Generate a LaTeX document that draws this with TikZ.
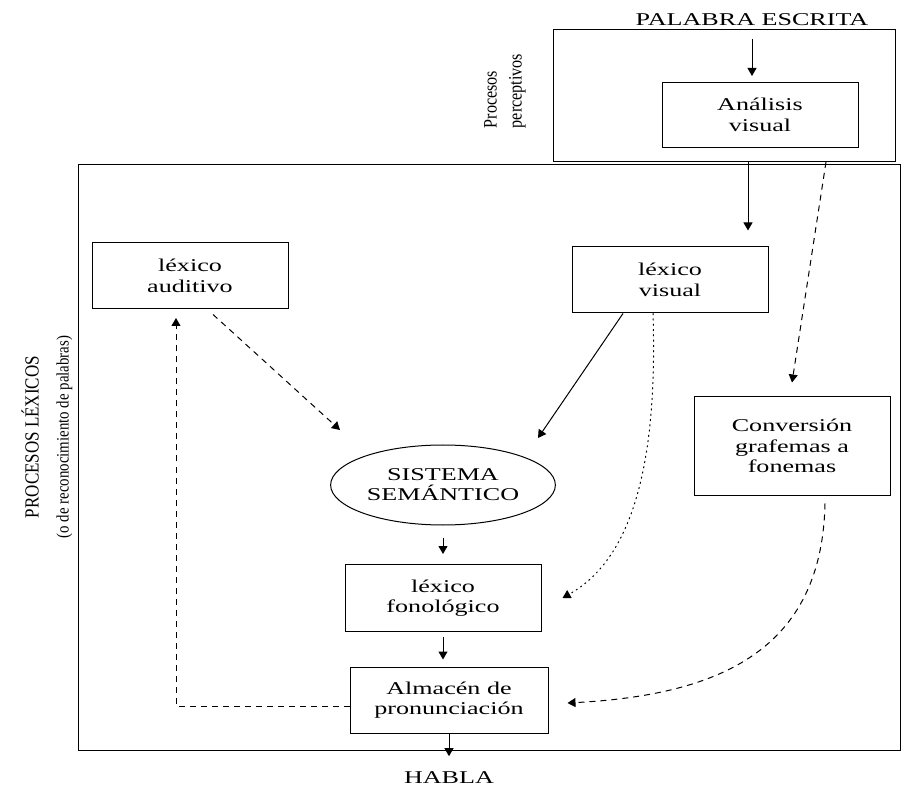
\documentclass[tikz,border=0pt]{standalone}
\usepackage{fontspec}
\setmainfont[FakeStretch=1.45]{Liberation Serif}
\newfontfamily\sidefont[FakeStretch=0.85]{Liberation Serif}
\usetikzlibrary{arrows.meta,shapes.geometric,positioning}

\tikzset{
  box/.style={draw, line width=1pt, minimum width=196pt, minimum height=66pt,
    align=center, font=\fontsize{18}{20.5}\selectfont},
  frame/.style={draw, line width=1pt, inner sep=0pt},
  label text/.style={font=\fontsize{18}{20}\selectfont},
  dashline/.style={dash pattern=on 6pt off 5pt},
  dotline/.style={dash pattern=on 1.3pt off 4pt, line cap=round}
}

\begin{document}
\begin{tikzpicture}[x=1pt, y=-1pt, on grid, line width=1pt, >={Triangle[length=8pt,width=9pt]}]
\useasboundingbox (0,0) rectangle (908,791);
\node [frame, minimum width=342pt, minimum height=132pt] (perc) at (724,96) {};
\node [frame, minimum width=822pt, minimum height=585pt] (lex) at (489,457.5) {};
\node [label text] (palabra) at (752,20) {PALABRA ESCRITA};
\node [box, minimum height=65pt] (ana) at (760,115) {Análisis\\visual};
\node [box] (aud) at (190,276) {léxico\\auditivo};
\node [box] (vis) at (670,280) {léxico\\visual};
\node [box, minimum height=98pt] (conv) at (792,446) {Conversión\\grafemas a\\fonemas};
\node [draw, ellipse, minimum width=210pt, minimum height=80pt, align=center,
  font=\fontsize{18}{20}\selectfont] (sem) at (443,485) {SISTEMA\\SEMÁNTICO};
\node [box, minimum height=67pt] (fon) [below=113pt of sem] {léxico\\fonológico};
\node [box, minimum width=198pt] (alm) [below=102pt of fon, xshift=6pt] {Almacén de\\pronunciación};
\node [label text] (habla) at (449,778) {HABLA};
\node [font=\sidefont\fontsize{19}{25}\selectfont, rotate=90, align=left] (perclab) at (505,91) {Procesos\\perceptivos};
\node [font=\sidefont\fontsize{17.5}{30}\selectfont, rotate=90, align=center] (lexlab) at (47,437)
  {{\fontsize{20}{30}\selectfont PROCESOS LÉXICOS}\\(o de reconocimiento de palabras)};
\coordinate (pv) at (748,162);
\coordinate (pc) at (826,162);
\coordinate (semvis) at (538,438);
\coordinate (semaud) at (340,430);
\coordinate (audret) at (176,318);
\path [->]
(palabra.south) edge [shorten <=9pt, shorten >=6pt] (palabra.south |- ana.north)
(pv) edge [shorten >=16pt] (pv |- vis.north)
(pc) edge [dashline] ([yshift=14pt]conv.north)
([xshift=-47pt]vis.south) edge (semvis)
([xshift=23pt,yshift=-5pt]aud.south) edge [dashline] (semaud)
(sem.south) edge [shorten <=12pt, shorten >=10pt] (sem.south |- fon.north)
(fon.south) edge [shorten <=5pt, shorten >=7pt] (fon.south |- alm.north)
(alm.south) edge [shorten >=12pt] (alm.south |- habla.north);
\draw [->, dotline] ([xshift=-17pt]vis.south) .. controls (658,470) and (630,560) .. ([xshift=21pt]fon.east);
\draw [->, dashline] ([xshift=33pt,yshift=-8pt]conv.south) .. controls (822,650) and (720,695) .. ([xshift=19pt,yshift=-3pt]alm.east);
\draw [->, dashline] ([yshift=-6pt]alm.west) -| (audret);
\end{tikzpicture}
\end{document}
